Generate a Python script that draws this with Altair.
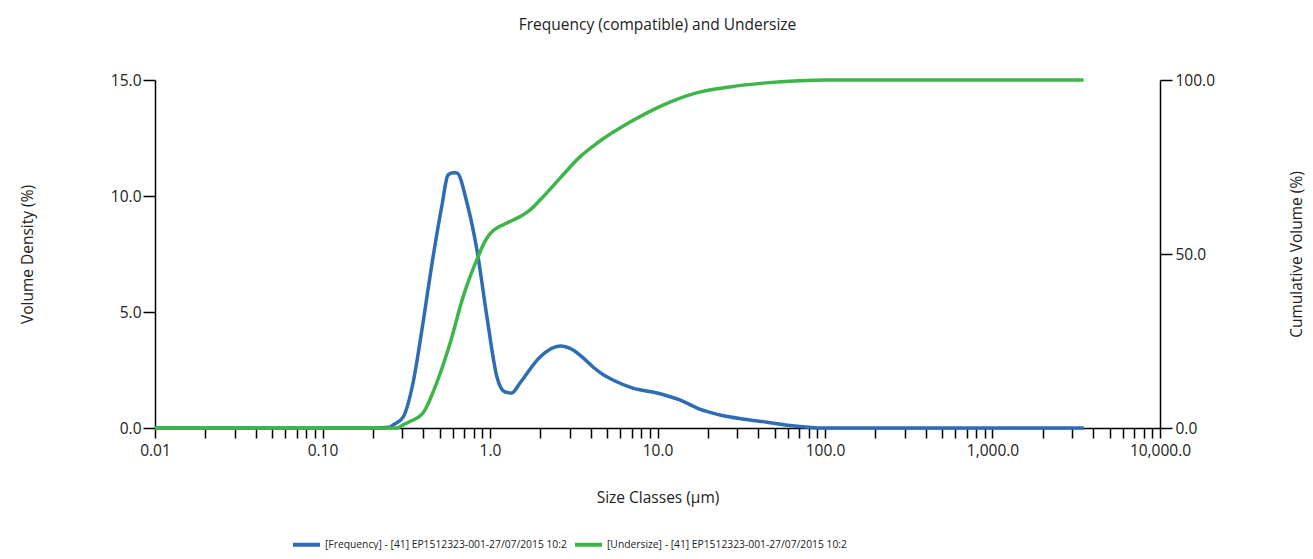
import altair as alt
import pandas as pd

# ---- data ----
freq_size = [0.01, 0.1, 0.2, 0.25, 0.264, 0.303, 0.347, 0.398, 0.451, 0.517, 0.561, 0.60,
             0.635, 0.729, 0.836, 0.959, 1.10, 1.23, 1.35, 1.51, 1.99, 2.62, 3.13, 3.6,
             4.12, 4.7, 5.42, 7.14, 9.93, 11.5, 13.6, 15.5, 18.0, 21.0, 24.0, 33.0, 45.0,
             60.0, 80.0, 90.0, 500.0, 3500.0]
freq_value = [0.0, 0.0, 0.0, 0.03, 0.13, 0.47, 1.94, 4.53, 7.11, 9.61, 10.9, 11.0,
              10.99, 9.7, 7.67, 4.78, 2.2, 1.55, 1.51, 1.94, 3.06, 3.53, 3.36, 3.02,
              2.63, 2.32, 2.07, 1.72, 1.51, 1.38, 1.21, 1.02, 0.8, 0.66, 0.55, 0.38, 0.25,
              0.12, 0.03, 0.0, 0.0, 0.0]

under_size = [0.01, 0.1, 0.28, 0.303, 0.33, 0.398, 0.48, 0.578, 0.69, 0.85, 0.93, 0.999,
              1.13, 1.26, 1.57, 1.73, 1.99, 2.62, 3.44, 4.37, 6.86, 10.8, 17.1, 27.0,
              42.6, 70.0, 100.0, 500.0, 3500.0]
under_value = [0.0, 0.0, 0.0, 0.9, 1.8, 4.3, 12.9, 24.4, 37.6, 49.3, 53.5, 55.8,
               57.8, 58.9, 61.2, 62.6, 65.5, 71.8, 77.9, 81.9, 87.9, 92.8, 96.3, 98.0,
               99.1, 99.8, 100.0, 100.0, 100.0]

series_names = ["[Frequency] - [41] EP1512323-001-27/07/2015 10:2",
                "[Undersize] - [41] EP1512323-001-27/07/2015 10:2"]
series_colors = ["#2e6cb5", "#3db549"]

x_major = [0.01, 0.1, 1, 10, 100, 1000, 10000]
x_major_labels = ["0.01", "0.10", "1.0", "10.0", "100.0", "1,000.0", "10,000.0"]
x_minor_multipliers = [2, 3, 4, 5, 6, 7, 8, 9]
y_left_ticks = [0, 5, 10, 15]
y_right_ticks = [0, 50, 100]

FONT = "Open Sans"
TEXT = "#222222"

tick_values = sorted(x_major + [round(m * d, 6) for d in x_major[:-1] for m in x_minor_multipliers])
label_expr = "".join(f"datum.value == {v} ? '{l}' : " for v, l in zip(x_major, x_major_labels)) + "''"

freq_df = pd.DataFrame({"size": freq_size, "value": freq_value, "series": series_names[0]})
under_df = pd.DataFrame({"size": under_size, "value": under_value, "series": series_names[1]})

W, H = 1005, 348

x_enc = alt.X(
    "size:Q",
    scale=alt.Scale(type="log", domain=[0.01, 10000], nice=False),
    axis=alt.Axis(values=tick_values, labelExpr=label_expr, title="Size Classes (µm)",
                  tickSize=10, labelPadding=5, labelOverlap=False, labelFlush=False,
                  titleX=W / 2, titleY=69, titleBaseline="middle", titleAlign="center"),
)

color_enc = alt.Color(
    "series:N",
    scale=alt.Scale(domain=series_names, range=series_colors),
    legend=alt.Legend(orient="none", legendX=136, legendY=449, direction="horizontal",
                      symbolType="stroke", symbolSize=729, symbolStrokeWidth=4,
                      labelFont=FONT, labelFontSize=10.3, labelColor=TEXT, labelLimit=400,
                      labelOffset=3, columnPadding=0, padding=0, title=None),
)

freq_line = alt.Chart(freq_df).mark_line(strokeWidth=3.5, interpolate="monotone").encode(
    x=x_enc,
    y=alt.Y("value:Q", scale=alt.Scale(domain=[0, 15], nice=False),
            axis=alt.Axis(values=y_left_ticks, format=".1f", title="Volume Density (%)",
                          orient="left", tickSize=12, labelPadding=2,
                          titleX=-128, titleY=H / 2, titleAngle=270,
                          titleBaseline="middle", titleAlign="center")),
    color=color_enc,
)

under_line = alt.Chart(under_df).mark_line(strokeWidth=3.5, interpolate="monotone").encode(
    x=x_enc,
    y=alt.Y("value:Q", scale=alt.Scale(domain=[0, 100], nice=False),
            axis=alt.Axis(values=y_right_ticks, format=".1f", title="Cumulative Volume (%)",
                          orient="right", tickSize=12, labelPadding=3,
                          titleX=136, titleY=H / 2, titleAngle=270,
                          titleBaseline="middle", titleAlign="center")),
    color=color_enc,
)

chart = (
    alt.layer(freq_line, under_line)
    .resolve_scale(y="independent")
    .properties(
        width=W, height=H,
        title=alt.TitleParams(text="Frequency (compatible) and Undersize", font=FONT,
                              fontSize=15.5, fontWeight="normal", color=TEXT,
                              anchor="middle", frame="group", offset=40),
        padding={"left": 147, "top": 72, "right": 145, "bottom": 122},
        autosize=alt.AutoSizeParams(type="none"),
        background="white",
    )
    .configure_axis(domainColor="black", tickColor="black", domainWidth=1.5, tickWidth=1.5,
                    labelFont=FONT, labelFontSize=15.5, labelColor=TEXT,
                    titleFont=FONT, titleFontSize=15.5, titleFontWeight="normal",
                    titleColor=TEXT, grid=False)
    .configure_view(stroke="transparent")
)

chart.save("out.html", embed_options={"renderer": "svg", "actions": False})
